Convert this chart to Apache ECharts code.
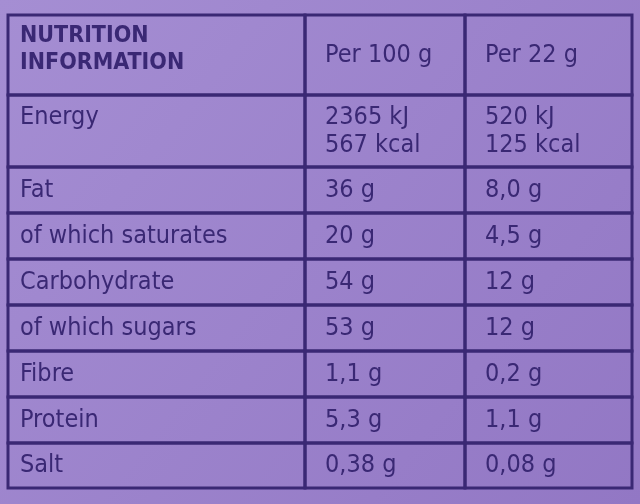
<!DOCTYPE html>
<html>
<head>
<meta charset="utf-8">
<script src="https://cdn.jsdelivr.net/npm/echarts@6/dist/echarts.min.js"></script>
<style>html,body{margin:0;padding:0;}#chart{width:640px;height:504px;}</style>
</head>
<body>
<div id="chart"></div>
<script>
// column and row boundaries of the table (pixel units of the axes)
const colEdges = [8, 305, 465, 632]
const rowEdges = [15, 95, 167, 213, 259, 305, 351, 397, 443, 488]

const nutrients = ['NUTRITION\nINFORMATION', 'Energy', 'Fat', 'of which saturates', 'Carbohydrate',
  'of which sugars', 'Fibre', 'Protein', 'Salt']
const per100g = ['Per 100 g', '2365 kJ\n567 kcal', '36 g', '20 g', '54 g', '53 g', '1,1 g', '5,3 g', '0,38 g']
const per22g = ['Per 22 g', '520 kJ\n125 kcal', '8,0 g', '4,5 g', '12 g', '12 g', '0,2 g', '1,1 g', '0,08 g']

const columns = [nutrients, per100g, per22g]
const cells = []
columns.forEach((col, c) => {
  col.forEach((txt, r) => {
    cells.push([c, r, txt])
  })
})

const ink = '#3a2874'
const chart = echarts.init(document.getElementById('chart'))
chart.setOption({
  backgroundColor: new echarts.graphic.LinearGradient(0, 0, 1, 1, [
    { offset: 0, color: '#a58ed3' },
    { offset: 1, color: '#9277c4' }
  ]),
  grid: { left: 0, right: 0, top: 0, bottom: 0 },
  xAxis: { type: 'value', min: 0, max: 640, show: false },
  yAxis: { type: 'value', min: 0, max: 504, inverse: true, show: false },
  series: [{
    type: 'custom',
    data: cells,
    renderItem: function (params, api) {
      const c = api.value(0)
      const r = api.value(1)
      const txt = cells[params.dataIndex][2]
      const p0 = api.coord([colEdges[c], rowEdges[r]])
      const p1 = api.coord([colEdges[c + 1], rowEdges[r + 1]])
      const header = r === 0 && c === 0
      const top = r === 1 || header
      return {
        type: 'group',
        children: [{
          type: 'rect',
          shape: { x: p0[0], y: p0[1], width: p1[0] - p0[0], height: p1[1] - p0[1] },
          style: { fill: 'transparent', stroke: ink, lineWidth: 3 }
        }, {
          type: 'text',
          style: {
            text: txt,
            x: p0[0] + (c === 0 ? 12 : 20),
            y: top ? p0[1] + 8 : (p0[1] + p1[1]) / 2,
            verticalAlign: top ? 'top' : 'middle',
            fill: ink,
            font: (header ? '600 23px' : '25px') + ' "Liberation Sans Narrow", "DejaVu Sans Condensed", sans-serif',
            lineHeight: header ? 27 : 28
          }
        }]
      }
    }
  }]
})
</script>
</body>
</html>
